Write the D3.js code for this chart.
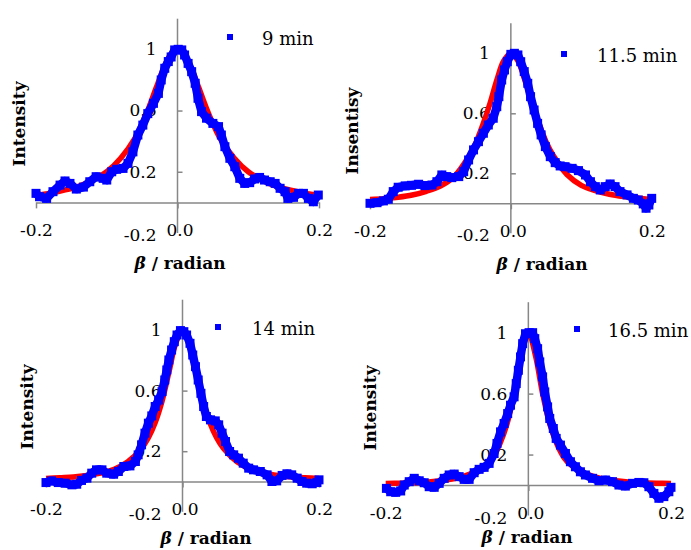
<!DOCTYPE html>
<html><head><meta charset="utf-8">
<script src="https://cdn.jsdelivr.net/npm/d3@7"></script>
<style>body{margin:0;background:#fff;} svg{display:block;}</style>
</head><body>
<svg id="c" width="691" height="550"></svg>
<script>
// ---------- data ----------
const legendNames = ["9 min", "11.5 min", "14 min", "16.5 min"];
const yTitles = ["Intensity", "Insentisy", "Intensity", "Intensity"];
const xTicks = [-0.2, 0, 0.2];
const yTicks = [-0.2, 0.2, 0.6, 1];

// measured points (blue)
const x9 = [-0.200,-0.195,-0.185,-0.176,-0.166,-0.159,-0.152,-0.143,-0.133,-0.124,-0.115,-0.105,-0.100,-0.093,-0.086,-0.077,-0.070,-0.063,-0.056,-0.049,-0.042,-0.034,-0.027,-0.023,-0.018,-0.013,-0.009,-0.004,0.001,0.006,0.010,0.015,0.020,0.025,0.029,0.034,0.041,0.050,0.058,0.062,0.067,0.074,0.081,0.088,0.095,0.102,0.109,0.116,0.123,0.131,0.138,0.145,0.152,0.156,0.164,0.171,0.178,0.185,0.192,0.199];
const y9 = [0.059,0.037,0.026,0.070,0.113,0.140,0.124,0.087,0.100,0.135,0.168,0.157,0.146,0.200,0.216,0.222,0.255,0.330,0.440,0.505,0.580,0.647,0.712,0.800,0.876,0.920,0.950,0.996,1.000,0.996,0.963,0.908,0.854,0.778,0.680,0.593,0.550,0.516,0.495,0.440,0.364,0.288,0.233,0.157,0.124,0.129,0.153,0.163,0.146,0.135,0.124,0.092,0.070,0.026,0.033,0.059,0.059,0.026,0.004,0.048];

const x115 = [-0.200,-0.190,-0.181,-0.174,-0.167,-0.160,-0.150,-0.141,-0.131,-0.122,-0.112,-0.105,-0.098,-0.091,-0.084,-0.074,-0.067,-0.060,-0.053,-0.046,-0.039,-0.032,-0.025,-0.020,-0.017,-0.013,-0.009,-0.005,0.000,0.005,0.010,0.014,0.019,0.024,0.028,0.033,0.038,0.043,0.049,0.056,0.063,0.070,0.077,0.087,0.096,0.106,0.113,0.120,0.127,0.134,0.141,0.148,0.155,0.165,0.174,0.181,0.188,0.192,0.196,0.200];
const y115 = [0.000,0.004,0.016,0.027,0.078,0.107,0.116,0.120,0.127,0.118,0.122,0.144,0.189,0.178,0.171,0.178,0.211,0.289,0.356,0.411,0.467,0.522,0.567,0.644,0.711,0.822,0.889,0.944,0.993,1.000,0.989,0.944,0.878,0.800,0.711,0.622,0.533,0.456,0.378,0.311,0.271,0.249,0.244,0.233,0.218,0.189,0.144,0.111,0.089,0.111,0.129,0.111,0.078,0.056,0.033,0.022,-0.004,-0.033,-0.011,0.033];

const x14 = [-0.200,-0.192,-0.182,-0.172,-0.162,-0.155,-0.148,-0.140,-0.133,-0.126,-0.118,-0.111,-0.101,-0.094,-0.086,-0.077,-0.069,-0.065,-0.060,-0.055,-0.050,-0.045,-0.040,-0.035,-0.030,-0.026,-0.023,-0.020,-0.016,-0.012,-0.008,-0.003,0.002,0.006,0.011,0.015,0.019,0.023,0.027,0.031,0.035,0.041,0.048,0.053,0.058,0.063,0.069,0.075,0.082,0.089,0.097,0.104,0.114,0.124,0.131,0.138,0.146,0.153,0.160,0.168,0.175,0.182,0.190,0.197,0.200];
const y14 = [-0.007,0.004,-0.007,-0.011,-0.022,-0.018,0.007,0.022,0.055,0.077,0.077,0.055,0.048,0.066,0.099,0.103,0.132,0.176,0.242,0.319,0.385,0.433,0.495,0.538,0.593,0.670,0.736,0.802,0.868,0.923,0.967,0.996,0.989,0.967,0.912,0.835,0.758,0.670,0.582,0.495,0.429,0.407,0.400,0.374,0.319,0.264,0.198,0.176,0.154,0.121,0.088,0.077,0.066,0.044,0.000,0.004,0.040,0.051,0.044,0.022,0.000,-0.011,-0.015,-0.007,0.011];

const x165 = [-0.199,-0.193,-0.186,-0.179,-0.174,-0.167,-0.160,-0.153,-0.146,-0.139,-0.132,-0.125,-0.118,-0.111,-0.104,-0.097,-0.090,-0.083,-0.076,-0.069,-0.062,-0.055,-0.048,-0.044,-0.039,-0.034,-0.029,-0.025,-0.020,-0.017,-0.014,-0.011,-0.008,-0.004,0.001,0.006,0.009,0.013,0.016,0.020,0.023,0.027,0.030,0.035,0.039,0.045,0.052,0.059,0.066,0.073,0.080,0.090,0.099,0.108,0.118,0.127,0.136,0.146,0.155,0.162,0.169,0.176,0.183,0.190,0.197,0.200];
const y165 = [-0.022,-0.044,-0.048,-0.039,0.000,0.022,0.044,0.028,0.015,-0.011,-0.015,0.011,0.044,0.066,0.072,0.055,0.037,0.037,0.081,0.103,0.116,0.142,0.207,0.273,0.349,0.404,0.469,0.524,0.579,0.666,0.753,0.841,0.928,0.993,1.000,1.000,0.961,0.895,0.808,0.710,0.611,0.513,0.437,0.371,0.306,0.262,0.207,0.153,0.120,0.087,0.066,0.044,0.028,0.033,0.022,0.000,-0.007,0.011,0.017,0.015,-0.011,-0.055,-0.087,-0.076,-0.044,-0.015];

// fitted curves (red)
const fitX = [-0.20,-0.18,-0.16,-0.14,-0.12,-0.10,-0.08,-0.06,-0.05,-0.04,-0.03,-0.02,-0.01,0,0.01,0.02,0.03,0.04,0.05,0.06,0.08,0.10,0.12,0.14,0.16,0.18,0.20];
const fit9 = [0.045,0.060,0.080,0.105,0.145,0.200,0.290,0.420,0.515,0.625,0.750,0.870,0.965,1.000,0.965,0.870,0.750,0.625,0.515,0.420,0.290,0.200,0.145,0.105,0.080,0.060,0.045];
const fit115 = [0.025,0.030,0.040,0.055,0.080,0.115,0.180,0.310,0.400,0.520,0.660,0.820,0.950,1.000,0.950,0.820,0.670,0.530,0.410,0.320,0.190,0.120,0.085,0.060,0.045,0.035,0.025];
const fit14 = [0.020,0.025,0.030,0.040,0.055,0.080,0.130,0.220,0.290,0.390,0.530,0.720,0.910,1.000,0.910,0.720,0.530,0.390,0.290,0.220,0.130,0.080,0.055,0.040,0.030,0.025,0.020];
const fit165 = [0.010,0.012,0.015,0.020,0.030,0.045,0.075,0.130,0.180,0.270,0.400,0.600,0.850,1.000,0.850,0.600,0.400,0.270,0.180,0.130,0.075,0.045,0.030,0.020,0.015,0.012,0.010];

// ---------- layout ----------
const layout = [
  {x0:36, x1:319, yb:233.0, yt:18.7, yTitle:[18.5,124], xTitle:[180,263], leg:[230,37,262]},
  {x0:370, x1:651.7, yb:233.3, yt:23.3, yTitle:[352,131], xTitle:[542,264], leg:[564,54,597]},
  {x0:46, x1:319, yb:511.8, yt:299.7, yTitle:[27,407], xTitle:[206,538], leg:[218,327,252]},
  {x0:385.7, x1:671, yb:515.5, yt:302.2, yTitle:[370,408], xTitle:[527,537], leg:[577,329,608]}
];
const series = [[x9,y9,fit9],[x115,y115,fit115],[x14,y14,fit14],[x165,y165,fit165]];

const svg = d3.select("#c");
const AX = "#878787";
const serif = "'DejaVu Serif', serif";
const fmt = d => d === 1 ? "1" : d.toFixed(1);

layout.forEach((L, i) => {
  const x = d3.scaleLinear().domain([-0.2, 0.2]).range([L.x0, L.x1]);
  const y = d3.scaleLinear().domain([-0.2, 1.2]).range([L.yb, L.yt]);
  const g = svg.append("g");

  // y tick labels (left) and tick marks (right)
  const yl = g.append("g").attr("transform", `translate(${x(0)},0)`)
    .call(d3.axisLeft(y).tickValues(yTicks).tickSize(0).tickPadding(21).tickFormat(fmt));
  yl.select(".domain").remove();
  yl.selectAll("text").attr("font-family", serif).attr("font-size", 17).attr("fill", "#000")
    .attr("dy", d => d === -0.2 ? "0.45em" : "0.32em");
  const yr = g.append("g").attr("transform", `translate(${x(0)},0)`)
    .call(d3.axisRight(y).tickValues(yTicks.filter(v => v > 0 && v < 1)).tickSize(5).tickFormat(""));
  yr.select(".domain").remove();
  yr.selectAll("line").attr("stroke", AX).attr("stroke-width", 1.5);

  // x axis at y=0
  const xa = g.append("g").attr("transform", `translate(0,${y(0)})`)
    .call(d3.axisBottom(x).tickValues(xTicks).tickSize(6).tickSizeOuter(0).tickFormat(d => d.toFixed(1)));
  xa.select(".domain").attr("stroke", AX).attr("stroke-width", 1.5);
  xa.selectAll("line").attr("stroke", AX).attr("stroke-width", 1.5);
  xa.selectAll("text").attr("font-family", serif).attr("font-size", 17).attr("fill", "#000")
    .attr("y", y(-0.2) - 2.5 - y(0)).attr("dy", "0.35em")
    .attr("dx", d => d === 0 ? 2 : 0);

  // vertical axis line
  g.append("line").attr("x1", x(0)).attr("x2", x(0)).attr("y1", y(1.2)).attr("y2", y(-0.2))
    .attr("stroke", AX).attr("stroke-width", 1.5);

  // axis titles
  g.append("text").attr("transform", `translate(${L.yTitle[0]},${L.yTitle[1]}) rotate(-90)`)
    .attr("text-anchor", "middle").attr("dominant-baseline", "central")
    .attr("font-family", serif).attr("font-weight", "bold").attr("font-size", 17).text(yTitles[i]);
  const xt = g.append("text").attr("x", L.xTitle[0]).attr("y", L.xTitle[1])
    .attr("text-anchor", "middle").attr("dominant-baseline", "central")
    .attr("font-family", serif).attr("font-weight", "bold").attr("font-size", 17);
  xt.append("tspan").attr("font-style", "italic").text("β");
  xt.append("tspan").text(" / radian");

  const [sx, sy, sf] = series[i];
  // red fit
  g.append("path").datum(fitX.map((v, k) => [v, sf[k]]))
    .attr("d", d3.line().x(d => x(d[0])).y(d => y(d[1])).curve(d3.curveCatmullRom.alpha(0.5)))
    .attr("fill", "none").attr("stroke", "#ff0000").attr("stroke-width", 5.5);

  // blue data
  const pts = sx.map((v, k) => [v, sy[k]]);
  g.append("path").datum(pts)
    .attr("d", d3.line().x(d => x(d[0])).y(d => y(d[1])))
    .attr("fill", "none").attr("stroke", "#0000ff").attr("stroke-width", 8.5).attr("stroke-linejoin", "round");
  g.selectAll("rect.pt").data(pts).enter().append("rect")
    .attr("x", d => x(d[0]) - 4.5).attr("y", d => y(d[1]) - 4.5).attr("width", 9).attr("height", 9)
    .attr("fill", "#0000ff");

  // legend
  g.append("rect").attr("x", L.leg[0] - 3).attr("y", L.leg[1] - 3).attr("width", 6).attr("height", 6).attr("fill", "#0000ff");
  g.append("text").attr("x", L.leg[2]).attr("y", L.leg[1] + 1).attr("dominant-baseline", "central")
    .attr("font-family", serif).attr("font-size", 18).text(legendNames[i]);
});
</script>
</body></html>
